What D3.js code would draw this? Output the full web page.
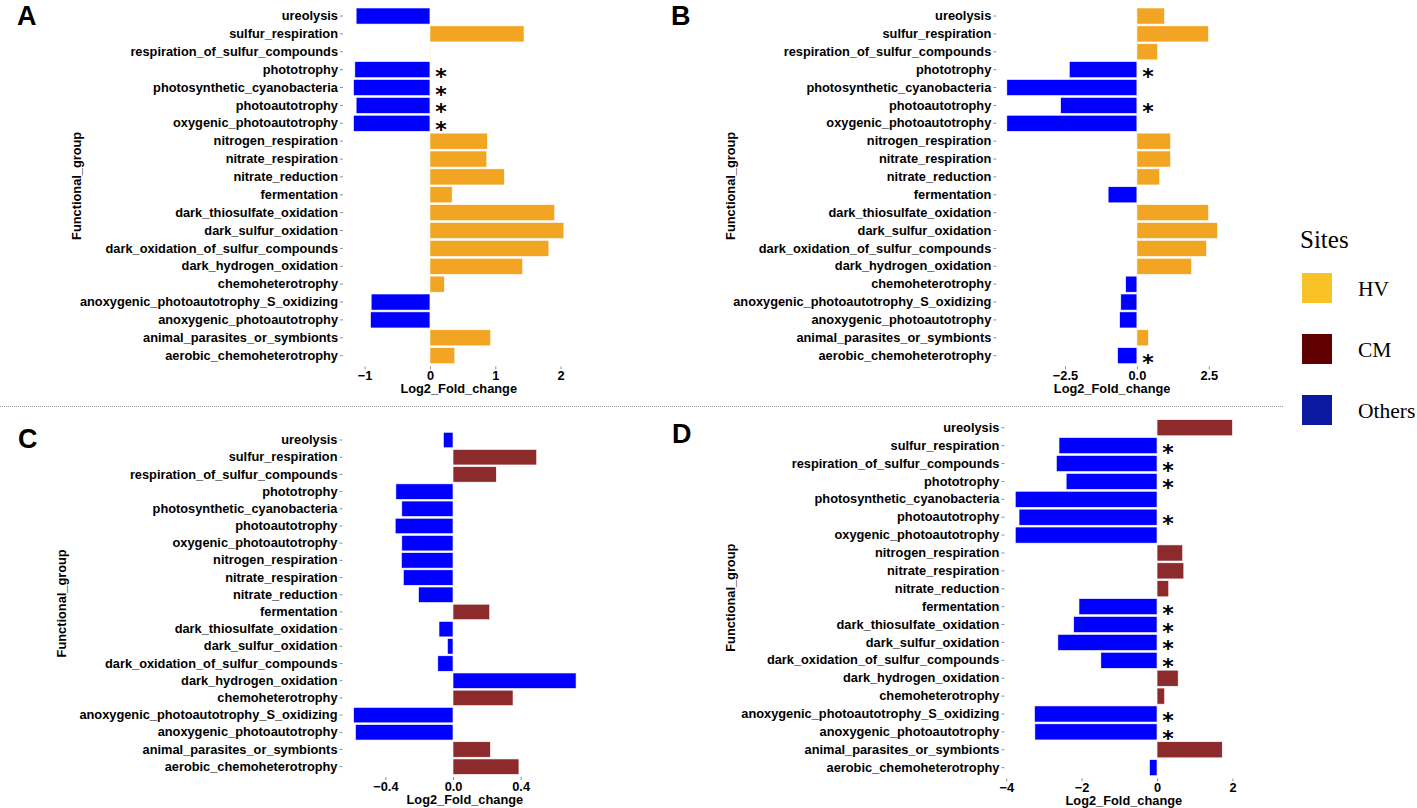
<!DOCTYPE html>
<html>
<head>
<meta charset="utf-8">
<script src="https://cdn.jsdelivr.net/npm/d3@7"></script>
<style>
  body { margin: 0; background: #fff; }
  text { font-family: "Liberation Sans", Arial, sans-serif; }
</style>
</head>
<body>
<div id="chart"></div>
<script>
// Functional groups, top to bottom
const categories = [
  "ureolysis", "sulfur_respiration", "respiration_of_sulfur_compounds", "phototrophy",
  "photosynthetic_cyanobacteria", "photoautotrophy", "oxygenic_photoautotrophy",
  "nitrogen_respiration", "nitrate_respiration", "nitrate_reduction", "fermentation",
  "dark_thiosulfate_oxidation", "dark_sulfur_oxidation", "dark_oxidation_of_sulfur_compounds",
  "dark_hydrogen_oxidation", "chemoheterotrophy", "anoxygenic_photoautotrophy_S_oxidizing",
  "anoxygenic_photoautotrophy", "animal_parasites_or_symbionts", "aerobic_chemoheterotrophy"
];

// Log2 fold change per panel (same order as categories)
const valuesA = [-1.13, 1.44, 0.004, -1.15, -1.17, -1.13, -1.17, 0.88, 0.87, 1.14,
                 0.34, 1.91, 2.05, 1.82, 1.42, 0.22, -0.90, -0.91, 0.93, 0.38];
const valuesB = [0.96, 2.49, 0.72, -2.35, -4.52, -2.65, -4.52, 1.17, 1.17, 0.79,
                 -1.00, 2.49, 2.80, 2.42, 1.90, -0.39, -0.56, -0.60, 0.40, -0.67];
const valuesC = [-0.057, 0.495, 0.256, -0.338, -0.303, -0.342, -0.303, -0.305, -0.294, -0.204,
                 0.217, -0.083, -0.033, -0.090, 0.728, 0.355, -0.588, -0.577, 0.221, 0.390];
const valuesD = [2.00, -2.60, -2.67, -2.41, -3.76, -3.66, -3.76, 0.68, 0.71, 0.31,
                 -2.07, -2.21, -2.63, -1.49, 0.56, 0.20, -3.25, -3.24, 1.73, -0.20];

// Site each bar belongs to
const sitesA = valuesA.map(v => v >= 0 ? "HV" : "Others");
const sitesB = valuesB.map(v => v >= 0 ? "HV" : "Others");
const sitesC = ["Others", "CM", "CM", "Others", "Others", "Others", "Others", "Others", "Others", "Others",
                "CM", "Others", "Others", "Others", "Others", "CM", "Others", "Others", "CM", "CM"];
const sitesD = valuesD.map(v => v >= 0 ? "CM" : "Others");

// Significant groups (asterisk)
const starsA = ["phototrophy", "photosynthetic_cyanobacteria", "photoautotrophy", "oxygenic_photoautotrophy"];
const starsB = ["phototrophy", "photoautotrophy", "aerobic_chemoheterotrophy"];
const starsC = [];
const starsD = ["sulfur_respiration", "respiration_of_sulfur_compounds", "phototrophy", "photoautotrophy",
                "fermentation", "dark_thiosulfate_oxidation", "dark_sulfur_oxidation",
                "dark_oxidation_of_sulfur_compounds", "anoxygenic_photoautotrophy_S_oxidizing",
                "anoxygenic_photoautotrophy"];

// Axis ticks
const ticksA = [-1, 0, 1, 2];
const ticksB = [-2.5, 0, 2.5];
const ticksC = [-0.4, 0, 0.4];
const ticksD = [-4, -2, 0, 2];

const legendKeys = ["HV", "CM", "Others"];

const barColor = { HV: "#F2A522", CM: "#8D2A2B", Others: "#0000FF" };
const legendColor = { HV: "#F9C226", CM: "#600000", Others: "#0B19A0" };

const W = 1417, H = 808;
const svg = d3.select("#chart").append("svg")
    .attr("width", W)
    .attr("height", H);

const panels = [
  { label: "A", values: valuesA, sites: sitesA, stars: starsA, ticks: ticksA, fmt: d3.format("d"),
    left: 343, right: 574.4, top: 5.3, bottom: 366.4, letter: [17, 25], titleX: 76 },
  { label: "B", values: valuesB, sites: sitesB, stars: starsB, ticks: ticksB, fmt: d3.format(".1f"),
    left: 996.3, right: 1228, top: 5.3, bottom: 366.4, letter: [671, 25], titleX: 730 },
  { label: "C", values: valuesC, sites: sitesC, stars: starsC, ticks: ticksC, fmt: d3.format(".1f"),
    left: 342.5, right: 587.2, top: 429.7, bottom: 777, letter: [18, 448], titleX: 61 },
  { label: "D", values: valuesD, sites: sitesD, stars: starsD, ticks: ticksD, fmt: d3.format("d"),
    left: 1004.4, right: 1243.3, top: 417, bottom: 778.4, letter: [672, 443], titleX: 730 }
];

// Separator between the two rows
svg.append("line")
    .attr("x1", 0).attr("x2", 1283)
    .attr("y1", 406.5).attr("y2", 406.5)
    .attr("stroke", "#9a9a9a")
    .attr("stroke-width", 1)
    .attr("stroke-dasharray", "1,1");

panels.forEach(p => {
  const [lo, hi] = d3.extent(p.values.concat([0]));
  const pad = (hi - lo) * 0.05;

  const x = d3.scaleLinear()
      .domain([lo - pad, hi + pad])
      .range([p.left, p.right]);

  const y = d3.scaleBand()
      .domain(categories)
      .range([p.top, p.bottom])
      .paddingInner(0.1)
      .paddingOuter(0.15);

  const rows = categories.map((c, i) => ({ name: c, value: p.values[i], site: p.sites[i] }));

  const g = svg.append("g");

  g.selectAll("rect")
      .data(rows)
      .enter()
      .append("rect")
      .attr("x", d => Math.min(x(0), x(d.value)))
      .attr("y", d => y(d.name))
      .attr("width", d => Math.abs(x(d.value) - x(0)))
      .attr("height", y.bandwidth())
      .attr("fill", d => barColor[d.site])
      .attr("stroke", "#fff")
      .attr("stroke-width", 0.6);

  // asterisks for significant groups
  g.selectAll("text.star")
      .data(p.stars)
      .enter()
      .append("text")
      .attr("class", "star")
      .attr("x", x(0) + 11)
      .attr("y", d => y(d) + y.bandwidth() / 2 + 14)
      .attr("text-anchor", "middle")
      .style("font-family", "'DejaVu Sans', sans-serif")
      .style("font-size", "22px")
      .style("font-weight", "bold")
      .text("*");

  const yAxis = g.append("g")
      .attr("transform", `translate(${p.left},0)`)
      .call(d3.axisLeft(y).tickSize(3).tickPadding(2));

  const xAxis = g.append("g")
      .attr("transform", `translate(0,${p.bottom})`)
      .call(d3.axisBottom(x).tickValues(p.ticks).tickFormat(p.fmt).tickSize(3).tickPadding(2));

  [yAxis, xAxis].forEach(a => {
    a.select(".domain").remove();
    a.selectAll(".tick line").attr("stroke", "#444").attr("stroke-width", 0.6);
    a.selectAll(".tick text")
        .attr("fill", "#000")
        .style("font-family", "'Liberation Sans', Arial, sans-serif")
        .style("font-size", "12.8px")
        .style("font-weight", "bold");
  });

  g.append("text")
      .attr("x", (p.left + p.right) / 2)
      .attr("y", p.bottom + 27)
      .attr("text-anchor", "middle")
      .style("font-size", "12.8px")
      .style("font-weight", "bold")
      .text("Log2_Fold_change");

  g.append("text")
      .attr("transform", `translate(${p.titleX},${(p.top + p.bottom) / 2}) rotate(-90)`)
      .attr("text-anchor", "middle")
      .attr("dominant-baseline", "central")
      .style("font-size", "12.8px")
      .style("font-weight", "bold")
      .text("Functional_group");

  g.append("text")
      .attr("x", p.letter[0])
      .attr("y", p.letter[1])
      .style("font-size", "27px")
      .style("font-weight", "bold")
      .text(p.label);
});

// Legend
const legend = svg.append("g").attr("transform", "translate(1302,0)");

legend.append("text")
    .attr("x", -2)
    .attr("y", 248)
    .style("font-family", "'Liberation Serif', 'Times New Roman', serif")
    .style("font-size", "25px")
    .text("Sites");

const ly = d3.scalePoint()
    .domain(legendKeys)
    .range([273, 395]);

legend.selectAll("rect.key")
    .data(legendKeys)
    .enter()
    .append("rect")
    .attr("class", "key")
    .attr("x", 0)
    .attr("y", d => ly(d))
    .attr("width", 30)
    .attr("height", 30)
    .attr("fill", d => legendColor[d]);

legend.selectAll("text.key")
    .data(legendKeys)
    .enter()
    .append("text")
    .attr("class", "key")
    .attr("x", 56)
    .attr("y", d => ly(d) + 23)
    .style("font-family", "'Liberation Serif', 'Times New Roman', serif")
    .style("font-size", "21.5px")
    .text(d => d);
</script>
</body>
</html>
